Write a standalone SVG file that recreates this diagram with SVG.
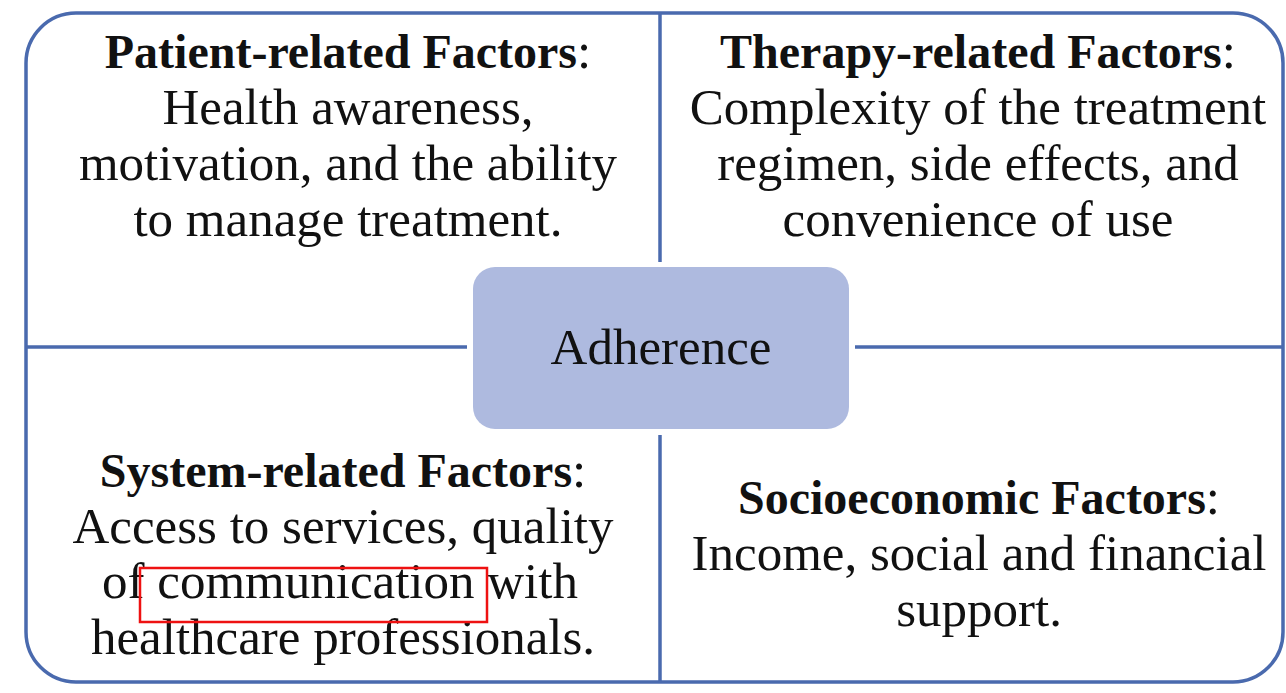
<svg xmlns="http://www.w3.org/2000/svg" width="1286" height="693" viewBox="0 0 1286 693">
<style>
.ln{stroke:#4a6aae;stroke-width:3.5;fill:none}
.t{font-family:"Liberation Serif","Times New Roman",serif;font-size:51px;fill:#111;text-anchor:middle}
.b{font-weight:bold;font-size:48px}
</style>
<rect x="0" y="0" width="1286" height="693" fill="#ffffff"/>
<g id="frame">
<rect x="26" y="13" width="1257" height="669" rx="50" ry="50" class="ln" stroke-width="4"/>
</g>
<g id="connectors">
<line x1="660" y1="13" x2="660" y2="262" class="ln"/>
<line x1="660" y1="435" x2="660" y2="682" class="ln"/>
<line x1="26" y1="347" x2="467" y2="347" class="ln"/>
<line x1="855" y1="347" x2="1283" y2="347" class="ln"/>
</g>
<g id="center">
<rect x="473" y="267" width="376" height="162" rx="22" ry="22" fill="#aebadf"/>
<text x="661" y="364" class="t">Adherence</text>
</g>
<g id="patient">
<text x="348" y="68" class="t"><tspan class="b">Patient-related Factors</tspan>:</text>
<text x="348" y="124" class="t">Health awareness,</text>
<text x="348" y="180" class="t">motivation, and the ability</text>
<text x="348" y="236" class="t">to manage treatment.</text>
</g>
<g id="therapy">
<text x="978" y="68" class="t"><tspan class="b">Therapy-related Factors</tspan>:</text>
<text x="978" y="124" class="t">Complexity of the treatment</text>
<text x="978" y="180" class="t">regimen, side effects, and</text>
<text x="978" y="236" class="t">convenience of use</text>
</g>
<g id="system">
<text x="343" y="487" class="t"><tspan class="b">System-related Factors</tspan>:</text>
<text x="343" y="543" class="t">Access to services, quality</text>
<text x="340" y="598" class="t">of communication with</text>
<text x="343" y="654" class="t">healthcare professionals.</text>
</g>
<g id="socio">
<text x="979" y="514" class="t"><tspan class="b">Socioeconomic Factors</tspan>:</text>
<text x="979" y="570" class="t">Income, social and financial</text>
<text x="979" y="626" class="t">support.</text>
</g>
<g id="highlight">
<rect x="140" y="568" width="347" height="54" fill="none" stroke="#ee1111" stroke-width="2.5"/>
</g>
</svg>
